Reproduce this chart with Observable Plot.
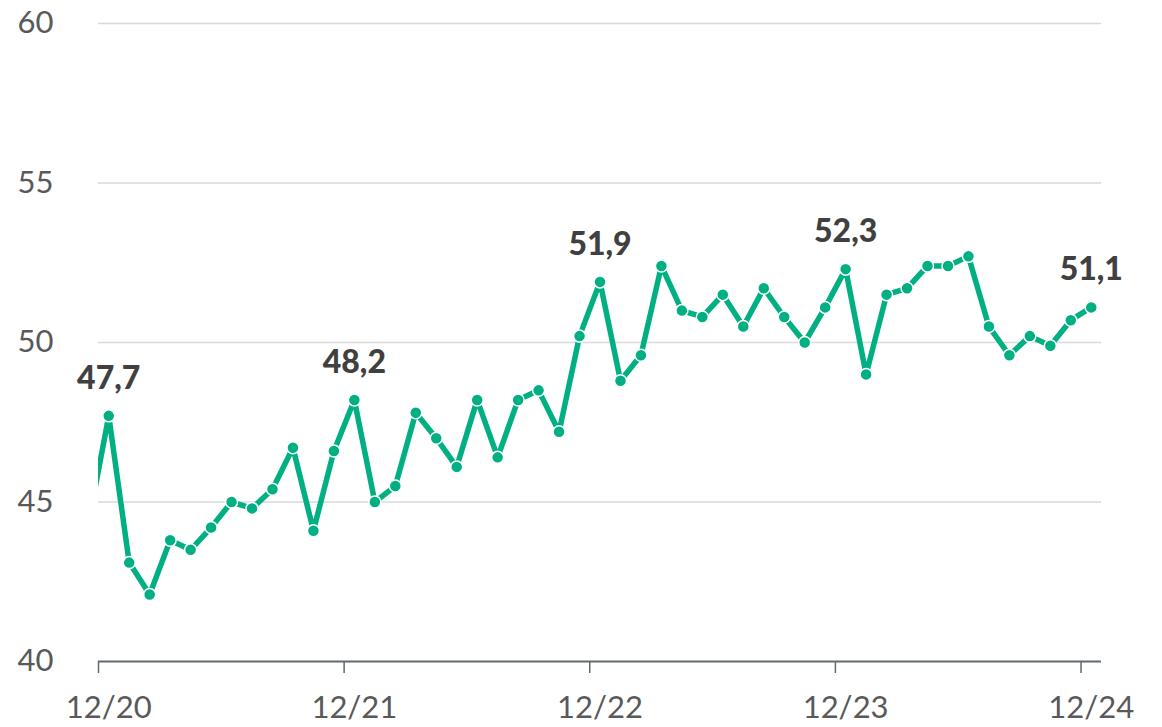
<!DOCTYPE html>
<html><head><meta charset="utf-8">
<script src="https://cdn.jsdelivr.net/npm/d3@7"></script>
<script src="https://cdn.jsdelivr.net/npm/@observablehq/plot@0.6"></script>
<style>body{margin:0;background:#fff}</style>
</head><body><div id="chart"></div>
<script>
// Monthly values; first value (11/20) lies before the visible axis start and is clipped
const values = [44.3,
  47.7, 43.1, 42.1, 43.8, 43.5, 44.2, 45.0, 44.8, 45.4, 46.7, 44.1,
  46.6, 48.2, 45.0, 45.5, 47.8, 47.0, 46.1, 48.2, 46.4, 48.2, 48.5, 47.2,
  50.2, 51.9, 48.8, 49.6, 52.4, 51.0, 50.8, 51.5, 50.5, 51.7, 50.8, 50.0, 51.1,
  52.3, 49.0, 51.5, 51.7, 52.4, 52.4, 52.7, 50.5, 49.6, 50.2, 49.9, 50.7, 51.1];
const tickLabels = ["12/20", "12/21", "12/22", "12/23", "12/24"];
const labelIdx = [0, 12, 24, 36, 48];
const yTicks = [40, 45, 50, 55, 60];

const data = values.map((v, k) => ({i: k - 1, v}));
const labeled = data.filter(d => labelIdx.includes(d.i));
const tickPos = labelIdx.map(i => i - 0.5);
const green = "#00b083";
const axisColor = "#5f6a72";

const chart = Plot.plot({
  width: 1162, height: 727,
  marginLeft: 98, marginRight: 61, marginTop: 23, marginBottom: 66,
  style: {fontFamily: "Lato, sans-serif", fontSize: "31px", color: "#595959", background: "#fff"},
  x: {domain: [-0.5, 48.5], label: null},
  y: {domain: [40, 60], label: null},
  marks: [
    Plot.gridY([45, 50, 55, 60], {stroke: "#d9d9d9", strokeOpacity: 1, strokeWidth: 1.5}),
    Plot.axisY(yTicks, {tickSize: 0, tickPadding: 45, fill: "#595959", fontSize: 31, label: null}),
    Plot.ruleY([40], {stroke: axisColor, strokeWidth: 2}),
    Plot.axisX(tickPos, {tickSize: 12, tickFormat: () => "", stroke: axisColor, strokeWidth: 1.5, label: null}),
    Plot.axisX(labelIdx, {tickSize: 0, tickPadding: 34, tickFormat: d => tickLabels[labelIdx.indexOf(d)], fill: "#595959", fontSize: 31, label: null}),
    Plot.line(data, {x: "i", y: "v", stroke: green, strokeWidth: 5.5, clip: true}),
    Plot.dot(data.filter(d => d.i >= 0), {x: "i", y: "v", r: 6, fill: green, stroke: "white", strokeWidth: 1.5}),
    Plot.text(labeled, {x: "i", y: "v", text: d => d.v.toFixed(1).replace(".", ","), dy: -27, lineAnchor: "bottom", fontWeight: 900, fontSize: 32, fill: "#404040"})
  ]
});
document.getElementById("chart").appendChild(chart);
</script>
</body></html>
